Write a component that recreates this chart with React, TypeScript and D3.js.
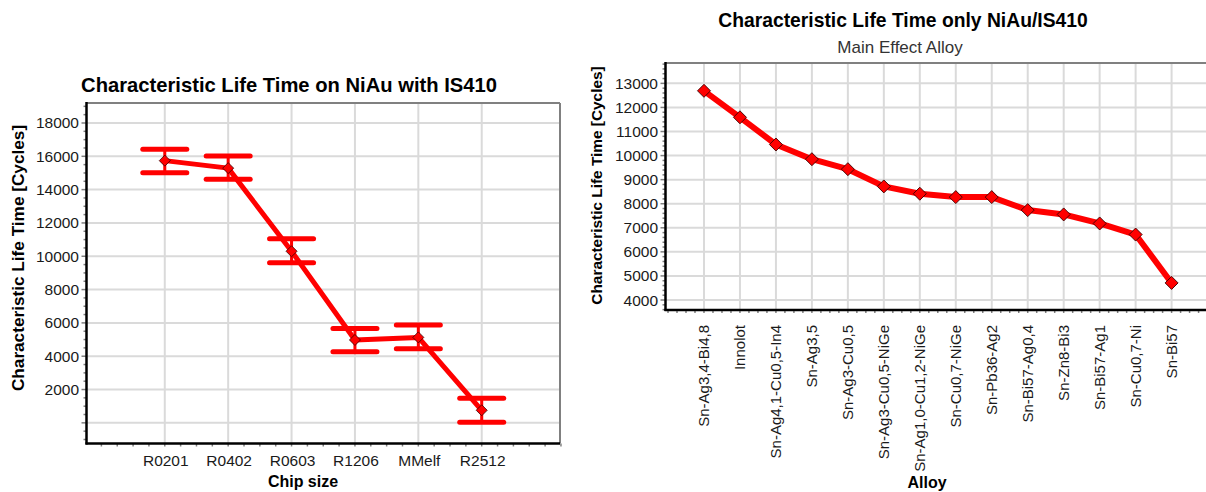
import React from "react";
import * as d3 from "d3";

const chipSizes = ["R0201", "R0402", "R0603", "R1206", "MMelf", "R2512"];
const chipLife = [15740, 15290, 10300, 4975, 5130, 755];
const chipUpper = [16420, 16025, 11050, 5670, 5875, 1475];
const chipLower = [15020, 14630, 9610, 4275, 4455, 35];
const leftYTicks = [2000, 4000, 6000, 8000, 10000, 12000, 14000, 16000, 18000];
const leftGrid = [0, 2000, 4000, 6000, 8000, 10000, 12000, 14000, 16000, 18000];

const alloys = [
  "Sn-Ag3,4-Bi4,8", "Innolot", "Sn-Ag4,1-Cu0,5-In4", "Sn-Ag3,5", "Sn-Ag3-Cu0,5",
  "Sn-Ag3-Cu0,5-NiGe", "Sn-Ag1,0-Cu1,2-NiGe", "Sn-Cu0,7-NiGe", "Sn-Pb36-Ag2",
  "Sn-Bi57-Ag0,4", "Sn-Zn8-Bi3", "Sn-Bi57-Ag1", "Sn-Cu0,7-Ni", "Sn-Bi57",
];
const alloyLife = [12690, 11590, 10460, 9850, 9435, 8720, 8415, 8275, 8275, 7735, 7555, 7180, 6720, 4710];
const rightYTicks = [4000, 5000, 6000, 7000, 8000, 9000, 10000, 11000, 12000, 13000];

const FONT = "'Liberation Sans', Arial, sans-serif";
const RED = "#ff0000";
const GRID = "#dadada";

function diamond(cx: number, cy: number, r: number) {
  return `M${cx},${cy - r}L${cx + r},${cy}L${cx},${cy + r}L${cx - r},${cy}Z`;
}

function LeftChart() {
  const L = 86.5, R = 560, T = 103, B = 443.5;
  const x = d3.scaleLinear().domain([-1.235, 6.235]).range([L, R]);
  const y = d3.scaleLinear().domain([-1240, 19200]).range([B, T]);
  const minorY = d3.range(-1000, 19200, 500);
  const minorX = d3.range(-1, 6.3, 0.25);
  const line = d3.line<number>().x((_, i) => x(i)).y((d) => y(d));
  const capW = 22;
  return (
    <g>
      <text x={289} y={92} textAnchor="middle" fontFamily={FONT} fontWeight="bold" fontSize={20.2} fill="#000">
        Characteristic Life Time on NiAu with IS410
      </text>
      {leftGrid.map((v) => (
        <line key={"h" + v} x1={L} x2={R} y1={y(v)} y2={y(v)} stroke={GRID} strokeWidth={2} />
      ))}
      {chipSizes.map((c, i) => (
        <line key={"v" + c} x1={x(i)} x2={x(i)} y1={T} y2={B} stroke={GRID} strokeWidth={2} />
      ))}
      <line x1={L} x2={R} y1={T} y2={T} stroke="#808080" strokeWidth={2} />
      <line x1={R} x2={R} y1={T} y2={B} stroke="#808080" strokeWidth={2} />
      {minorY.map((v) => (
        <line key={"my" + v} x1={L - (v % 2000 === 0 ? 5 : 3)} x2={L} y1={y(v)} y2={y(v)} stroke="#808080" strokeWidth={1.5} />
      ))}
      {minorX.map((v) => (
        <line key={"mx" + v} x1={x(v)} x2={x(v)} y1={B} y2={B + 3} stroke="#808080" strokeWidth={1.5} />
      ))}
      <line x1={L} x2={L} y1={T - 1} y2={B + 1} stroke="#000" strokeWidth={2.5} />
      <line x1={L - 1} x2={R} y1={B} y2={B} stroke="#000" strokeWidth={2.5} />
      {leftYTicks.map((v) => (
        <text key={"yt" + v} x={79} y={y(v) + 5.5} textAnchor="end" fontFamily={FONT} fontSize={15.5} fill="#1a1a1a">
          {v}
        </text>
      ))}
      {chipSizes.map((c, i) => (
        <text key={"xt" + c} x={x(i) + 1} y={466} textAnchor="middle" fontFamily={FONT} fontSize={15.5} fill="#1a1a1a">
          {c}
        </text>
      ))}
      <text x={303} y={487} textAnchor="middle" fontFamily={FONT} fontWeight="bold" fontSize={16} fill="#000">
        Chip size
      </text>
      <text transform="translate(24,258) rotate(-90)" textAnchor="middle" fontFamily={FONT} fontWeight="bold" fontSize={17.2} fill="#000">
        Characteristic Life Time [Cycles]
      </text>
      {chipSizes.map((c, i) => (
        <g key={"eb" + c} stroke={RED} strokeLinecap="round">
          <line x1={x(i)} x2={x(i)} y1={y(chipUpper[i])} y2={y(chipLower[i])} strokeWidth={3} />
          <line x1={x(i) - capW} x2={x(i) + capW} y1={y(chipUpper[i])} y2={y(chipUpper[i])} strokeWidth={5} />
          <line x1={x(i) - capW} x2={x(i) + capW} y1={y(chipLower[i])} y2={y(chipLower[i])} strokeWidth={5} />
        </g>
      ))}
      <path d={line(chipLife) || ""} fill="none" stroke={RED} strokeWidth={5} strokeLinejoin="round" />
      {chipLife.map((v, i) => (
        <path key={"m" + i} d={diamond(x(i), y(v), 5.5)} fill={RED} stroke="#3a0000" strokeWidth={0.8} />
      ))}
    </g>
  );
}

function RightChart() {
  const L = 665.5, T = 63, B = 310;
  const x = d3.scaleLinear().domain([-1.07, 14.5]).range([L, L + 15.57 * 35.97]);
  const R = x(14.5);
  const y = d3.scaleLinear().domain([3585, 13846]).range([B, T]);
  const minorY = d3.range(3600, 13846, 200);
  const minorX = d3.range(-1, 14.5, 0.25);
  const line = d3.line<number>().x((_, i) => x(i)).y((d) => y(d));
  return (
    <g>
      <text x={903} y={27} textAnchor="middle" fontFamily={FONT} fontWeight="bold" fontSize={19.3} fill="#000">
        Characteristic Life Time only NiAu/IS410
      </text>
      <text x={900} y={53} textAnchor="middle" fontFamily={FONT} fontSize={17} fill="#333">
        Main Effect Alloy
      </text>
      {rightYTicks.map((v) => (
        <line key={"h" + v} x1={L} x2={R} y1={y(v)} y2={y(v)} stroke={GRID} strokeWidth={2} />
      ))}
      {alloys.map((a, i) => (
        <line key={"v" + i} x1={x(i)} x2={x(i)} y1={T} y2={B} stroke={GRID} strokeWidth={2} />
      ))}
      <line x1={L} x2={R} y1={T} y2={T} stroke="#808080" strokeWidth={2} />
      {minorY.map((v) => (
        <line key={"my" + v} x1={L - (v % 1000 === 0 ? 5 : 3)} x2={L} y1={y(v)} y2={y(v)} stroke="#808080" strokeWidth={1.5} />
      ))}
      {minorX.map((v) => (
        <line key={"mx" + v} x1={x(v)} x2={x(v)} y1={B} y2={B + 3} stroke="#808080" strokeWidth={1.5} />
      ))}
      <line x1={L} x2={L} y1={T - 1} y2={B + 1} stroke="#000" strokeWidth={2.5} />
      <line x1={L - 1} x2={R} y1={B} y2={B} stroke="#000" strokeWidth={2.5} />
      {rightYTicks.map((v) => (
        <text key={"yt" + v} x={658} y={y(v) + 5.5} textAnchor="end" fontFamily={FONT} fontSize={15.5} fill="#1a1a1a">
          {v}
        </text>
      ))}
      {alloys.map((a, i) => (
        <text key={"xt" + i} transform={`translate(${x(i) + 5},${325}) rotate(-90)`} textAnchor="end" fontFamily={FONT} fontSize={15} fill="#1a1a1a">
          {a}
        </text>
      ))}
      <text x={927} y={488} textAnchor="middle" fontFamily={FONT} fontWeight="bold" fontSize={16} fill="#000">
        Alloy
      </text>
      <text transform="translate(602,185.5) rotate(-90)" textAnchor="middle" fontFamily={FONT} fontWeight="bold" fontSize={15.4} fill="#000">
        Characteristic Life Time [Cycles]
      </text>
      <path d={line(alloyLife) || ""} fill="none" stroke={RED} strokeWidth={6} strokeLinejoin="round" />
      {alloyLife.map((v, i) => (
        <path key={"m" + i} d={diamond(x(i), y(v), 6.5)} fill={RED} stroke="#3a0000" strokeWidth={0.9} />
      ))}
    </g>
  );
}

export default function App() {
  return (
    <svg
      width={1206}
      height={492}
      style={{ position: "absolute", left: 0, top: 0, background: "#fff" }}
    >
      <rect x={0} y={0} width={1206} height={492} fill="#fff" />
      <LeftChart />
      <RightChart />
    </svg>
  );
}
